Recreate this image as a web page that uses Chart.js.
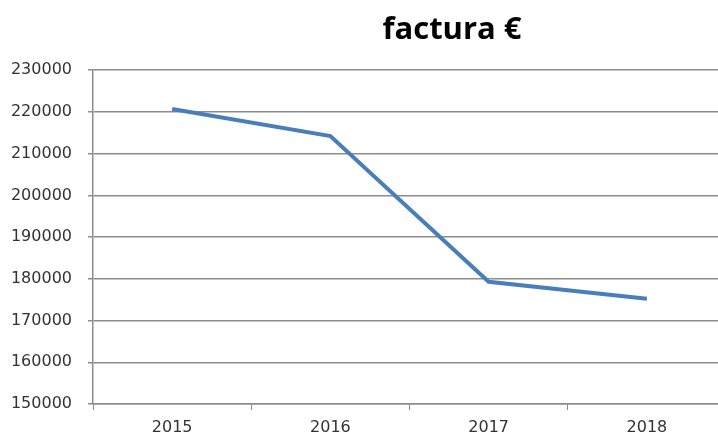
<!DOCTYPE html>
<html>
<head>
<meta charset="utf-8">
<script src="https://cdn.jsdelivr.net/npm/chart.js@4"></script>
<style>
  html, body { margin: 0; padding: 0; background: #fff; overflow: hidden; }
  #wrap { width: 894px; height: 434px; }
</style>
</head>
<body>
<div id="wrap"><canvas id="facturaChart" width="894" height="434"></canvas></div>
<script>
const years = ["2015", "2016", "2017", "2018"];
const factura = [220700, 214200, 179300, 175200];
const yMin = 150000;
const yMax = 230000;
const yStep = 10000;

const gridColor = "#8c8c8c";
const tickColor = "#333333";

const ctx = document.getElementById("facturaChart").getContext("2d");
new Chart(ctx, {
  type: "line",
  data: {
    labels: years,
    datasets: [{
      label: "factura €",
      data: factura,
      borderColor: "#4a7ebb",
      borderWidth: 4,
      pointRadius: 0,
      tension: 0,
      fill: false
    }]
  },
  options: {
    responsive: false,
    animation: false,
    layout: { padding: { left: 10, right: 0, top: 0, bottom: 0 } },
    plugins: {
      legend: { display: false },
      tooltip: { enabled: false },
      title: {
        display: true,
        text: "factura €",
        color: "#000",
        font: { family: "Open Sans", size: 31, weight: "bold" },
        padding: { top: 12, bottom: 21 }
      }
    },
    scales: {
      x: {
        offset: true,
        grid: {
          offset: true,
          drawOnChartArea: false,
          tickLength: 6,
          color: gridColor
        },
        border: { color: gridColor, width: 1.5 },
        ticks: {
          color: tickColor,
          font: { family: "DejaVu Sans", size: 16, lineHeight: 1 },
          padding: 10
        },
        afterFit: scale => { scale.height = 30; }
      },
      y: {
        min: yMin,
        max: yMax,
        grid: {
          color: gridColor,
          lineWidth: 1.5,
          tickLength: 5
        },
        border: { color: gridColor, width: 1.5 },
        ticks: {
          stepSize: yStep,
          color: tickColor,
          font: { family: "DejaVu Sans", size: 16 },
          padding: 16,
          callback: value => String(value)
        },
        afterFit: scale => { scale.width = 83; }
      },
      // empty right-hand space so the title centres where the original has it
      spacer: {
        type: "linear",
        position: "right",
        display: true,
        grid: { display: false },
        border: { display: false },
        ticks: { display: false },
        afterFit: scale => { scale.width = 168; }
      }
    }
  }
});
</script>
</body>
</html>
